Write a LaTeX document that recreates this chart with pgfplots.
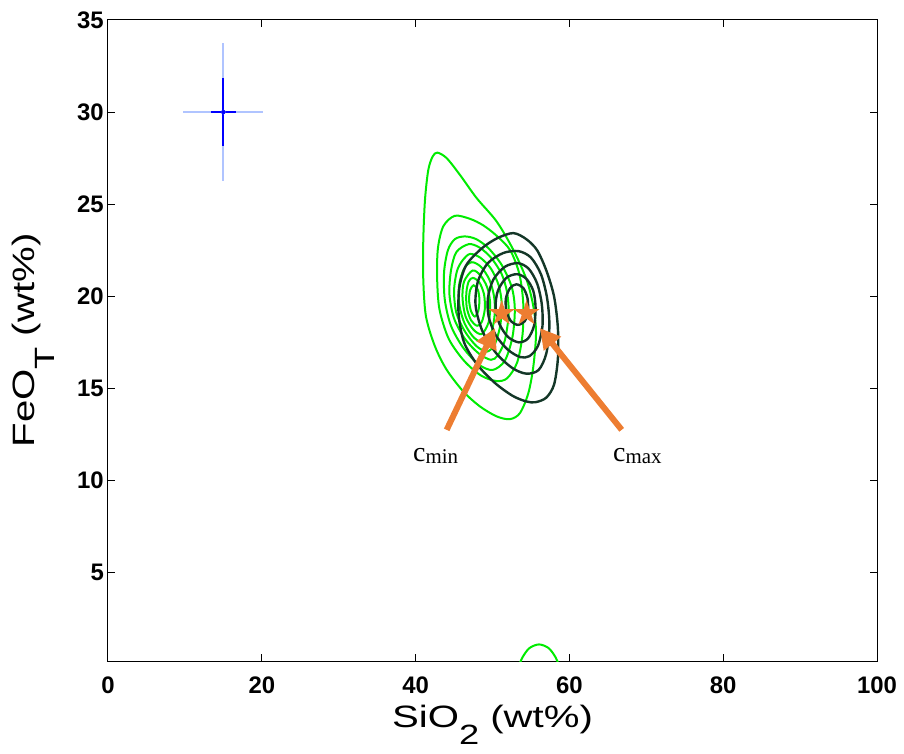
\documentclass[border=0pt]{standalone}
\usepackage{graphicx}
\usepackage{fontspec}
\setmainfont{Liberation Sans}
\newfontfamily\tnr{Liberation Serif}
\usepackage{pgfplots}
\pgfplotsset{compat=1.18}
\usetikzlibrary{arrows.meta,calc}
\definecolor{cgreen}{RGB}{0,235,0}
\definecolor{cdark}{RGB}{20,55,40}
\definecolor{corange}{RGB}{237,125,49}
\definecolor{lblue}{RGB}{176,196,255}
\definecolor{dblue}{RGB}{0,0,255}
\pgfdeclareplotmark{fstar}{%
  \pgfpathmoveto{\pgfpointpolar{90}{\pgfplotmarksize}}%
  \pgfpathlineto{\pgfpointpolar{126}{0.382\pgfplotmarksize}}%
  \pgfpathlineto{\pgfpointpolar{162}{\pgfplotmarksize}}%
  \pgfpathlineto{\pgfpointpolar{198}{0.382\pgfplotmarksize}}%
  \pgfpathlineto{\pgfpointpolar{234}{\pgfplotmarksize}}%
  \pgfpathlineto{\pgfpointpolar{270}{0.382\pgfplotmarksize}}%
  \pgfpathlineto{\pgfpointpolar{306}{\pgfplotmarksize}}%
  \pgfpathlineto{\pgfpointpolar{342}{0.382\pgfplotmarksize}}%
  \pgfpathlineto{\pgfpointpolar{18}{\pgfplotmarksize}}%
  \pgfpathlineto{\pgfpointpolar{54}{0.382\pgfplotmarksize}}%
  \pgfpathclose
  \pgfusepathqfill
}
\begin{document}
\begin{tikzpicture}
\begin{axis}[
  scale only axis, width=769bp, height=641bp,
  xmin=0, xmax=100, ymin=0.2, ymax=35,
  xtick={0,20,40,60,80,100}, ytick={5,10,15,20,25,30,35},
  tick align=inside, major tick length=7bp,
  axis line style={line width=1bp, black},
  every tick/.style={black, line width=1bp},
  /pgf/number format/assume math mode=true,
  tick label style={font=\fontsize{24}{28}\selectfont\bfseries, inner sep=2bp},
  xticklabel shift=14bp, yticklabel shift=2bp,
  every axis x label/.style={at={(axis description cs:0.5,0)}, yshift=-66bp, anchor=base, inner sep=0pt},
  every axis y label/.style={at={(axis description cs:0,0.5)}, xshift=-73bp, rotate=90, anchor=base, inner sep=0pt},
  xlabel={\fontsize{31}{36}\selectfont\scalebox{1.3}[1]{SiO\raisebox{-0.58em}{\fontsize{28}{30}\selectfont 2} (wt\%)}},
  ylabel={\fontsize{31}{36}\selectfont\scalebox{1.3}[1]{FeO\raisebox{-0.62em}{\fontsize{28}{30}\selectfont T} (wt\%)}},
]
% error cross
\addplot[color=lblue, only marks, mark=none, error bars/.cd, x dir=both, x explicit, y dir=both, y explicit, error mark=none,
  error bar style={draw=lblue, line width=2bp}] coordinates {(15,30) +- (5.2,3.75)};
\addplot[color=dblue, only marks, mark=none, error bars/.cd, x dir=both, x explicit, y dir=both, y explicit, error mark=none,
  error bar style={draw=dblue, line width=2bp}] coordinates {(15,30) +- (1.6,1.84)};
% green contours
\addplot[cgreen, line width=2bp, smooth cycle] coordinates {
(42.83,27.80) (44.04,27.50) (45.77,26.59) (47.94,25.33) (50.54,24.06) (52.71,22.52) (54.44,20.89) (55.31,19.45) (55.66,18.00) (55.31,16.19) (54.66,14.74) (53.57,13.66) (52.27,13.33) (50.54,13.48) (48.37,14.02) (46.21,14.83) (44.04,16.01) (42.52,17.28) (41.35,18.90) (41.00,20.89) (41.00,23.06) (41.22,25.23) (41.65,26.86) (42.22,27.59)};
\addplot[cgreen, line width=2bp, smooth cycle] coordinates {
(45.1,24.37) (47.1,24.2) (48.8,23.85) (50.5,23.3) (52.3,22.5) (53.5,21.2) (54.0,19.6) (53.9,17.9) (53.2,16.4) (51.9,15.55) (50.5,15.4) (48.5,15.7) (46.3,16.5) (44.3,17.7) (43.1,19.3) (42.8,21.0) (42.9,22.6) (43.6,23.8)};
\addplot[cgreen, line width=2bp, smooth cycle] coordinates {
(46.4,23.25) (47.9,23.1) (49.5,22.6) (51.2,21.7) (52.5,20.5) (52.9,19.3) (52.6,17.8) (51.6,16.5) (50.0,16.0) (48.2,16.3) (46.2,17.2) (44.6,18.4) (43.8,19.8) (43.7,21.3) (44.2,22.5) (45.1,23.1)};
\addplot[cgreen, line width=2bp, smooth cycle] coordinates {
(46.9,22.83) (48.3,22.65) (49.8,22.1) (51.2,21.2) (51.9,20.2) (52.1,19.0) (51.6,17.6) (50.7,16.8) (49.8,16.55) (48.2,16.9) (46.4,17.7) (45.0,18.8) (44.4,20.1) (44.6,21.4) (45.3,22.4)};
\addplot[cgreen, line width=2bp, smooth cycle] coordinates {
(47.1,22.3) (48.4,22.1) (49.8,21.5) (50.8,20.6) (51.2,19.6) (51.0,18.4) (50.3,17.4) (49.3,17.0) (47.9,17.3) (46.4,18.1) (45.3,19.1) (45.0,20.3) (45.4,21.4) (46.2,22.0)};
\addplot[cgreen, line width=2bp, smooth cycle] coordinates {
(47.3,21.85) (48.5,21.6) (49.6,20.9) (50.2,20.0) (50.3,19.1) (49.9,18.1) (48.9,17.5) (47.6,17.75) (46.4,18.5) (45.7,19.5) (45.65,20.6) (46.3,21.5)};
\addplot[cgreen, line width=2bp, smooth cycle] coordinates {
(47.4,21.4) (48.4,21.15) (49.3,20.5) (49.7,19.6) (49.5,18.6) (48.6,17.95) (47.5,18.2) (46.5,18.9) (46.1,19.9) (46.3,20.8)};
\addplot[cgreen, line width=2bp, smooth cycle] coordinates {
(47.45,21.0) (48.3,20.75) (48.9,20.1) (49.0,19.3) (48.6,18.6) (48.0,18.4) (47.2,18.7) (46.65,19.4) (46.6,20.2) (46.9,20.8)};
\addplot[cgreen, line width=2bp, smooth cycle] coordinates {
(47.55,20.6) (48.1,20.35) (48.3,19.8) (48.15,19.2) (47.7,18.9) (47.2,19.2) (46.95,19.8) (47.1,20.35)};
\addplot[cgreen, line width=2bp, smooth] coordinates {
(53.3,-0.2) (53.9,0.4) (54.8,0.9) (56.05,1.1) (57.3,0.9) (58.2,0.4) (58.8,-0.2)};
% dark contours
\addplot[cdark, line width=2.4bp, smooth cycle] coordinates {
(52.7,23.43) (54.4,23.1) (55.8,22.5) (57.0,21.4) (58.0,20.0) (58.5,18.3) (58.5,16.6) (58.0,15.2) (57.0,14.5) (55.6,14.25) (54.4,14.29) (52.6,14.6) (50.3,15.3) (48.0,16.3) (46.3,17.5) (45.6,19.0) (45.7,20.5) (46.6,21.7) (48.6,22.6) (50.6,23.15)};
\addplot[cdark, line width=2.4bp, smooth cycle] coordinates {
(53.4,22.45) (55.0,22.1) (56.3,21.2) (57.1,19.9) (57.4,18.4) (57.0,16.9) (56.0,16.0) (54.4,15.8) (52.6,16.1) (50.5,16.9) (48.7,18.1) (47.8,19.5) (48.1,20.8) (49.4,21.8) (51.4,22.35)};
\addplot[cdark, line width=2.4bp, smooth cycle] coordinates {
(53.3,21.8) (54.7,21.5) (55.8,20.7) (56.4,19.6) (56.5,18.4) (55.9,17.3) (54.8,16.75) (53.6,16.7) (52.0,17.1) (50.4,17.9) (49.5,18.9) (49.4,19.9) (50.1,20.9) (51.6,21.6)};
\addplot[cdark, line width=2.4bp, smooth cycle] coordinates {
(53.2,21.2) (54.4,20.95) (55.3,20.3) (55.6,19.4) (55.4,18.4) (54.6,17.7) (53.4,17.5) (52.0,17.8) (50.9,18.5) (50.4,19.4) (50.7,20.3) (51.8,21.0)};
\addplot[cdark, line width=2.4bp, smooth cycle] coordinates {
(53.1,20.65) (54.0,20.45) (54.55,19.9) (54.6,19.2) (54.2,18.65) (53.3,18.45) (52.4,18.65) (51.8,19.2) (51.75,19.9) (52.3,20.45)};
% stars
\addplot[only marks, mark=fstar, mark size=13.5bp, color=corange, fill=corange] coordinates {(51.2,19.07) (54.43,19.07)};
% arrows
\draw[corange, line width=6bp, -{Triangle[length=20bp, width=21bp]}] (axis cs:44.04,12.75) -- (axis cs:50.33,18.27);
\draw[corange, line width=6bp, -{Triangle[length=20bp, width=21bp]}] (axis cs:66.8,12.75) -- (axis cs:56.17,18.27);
\node[anchor=base west, inner sep=0pt] at (axis cs:39.66,11.03) {\tnr\fontsize{28}{30}\selectfont c\raisebox{-2bp}{\fontsize{21}{24}\selectfont min}};
\node[anchor=base west, inner sep=0pt] at (axis cs:65.67,11.03) {\tnr\fontsize{28}{30}\selectfont c\raisebox{-2bp}{\fontsize{21}{24}\selectfont max}};
\end{axis}
\path ($(current axis.south west)+(-108bp,-93bp)$) rectangle ($(current axis.north east)+(27bp,20bp)$);
\end{tikzpicture}
\end{document}
